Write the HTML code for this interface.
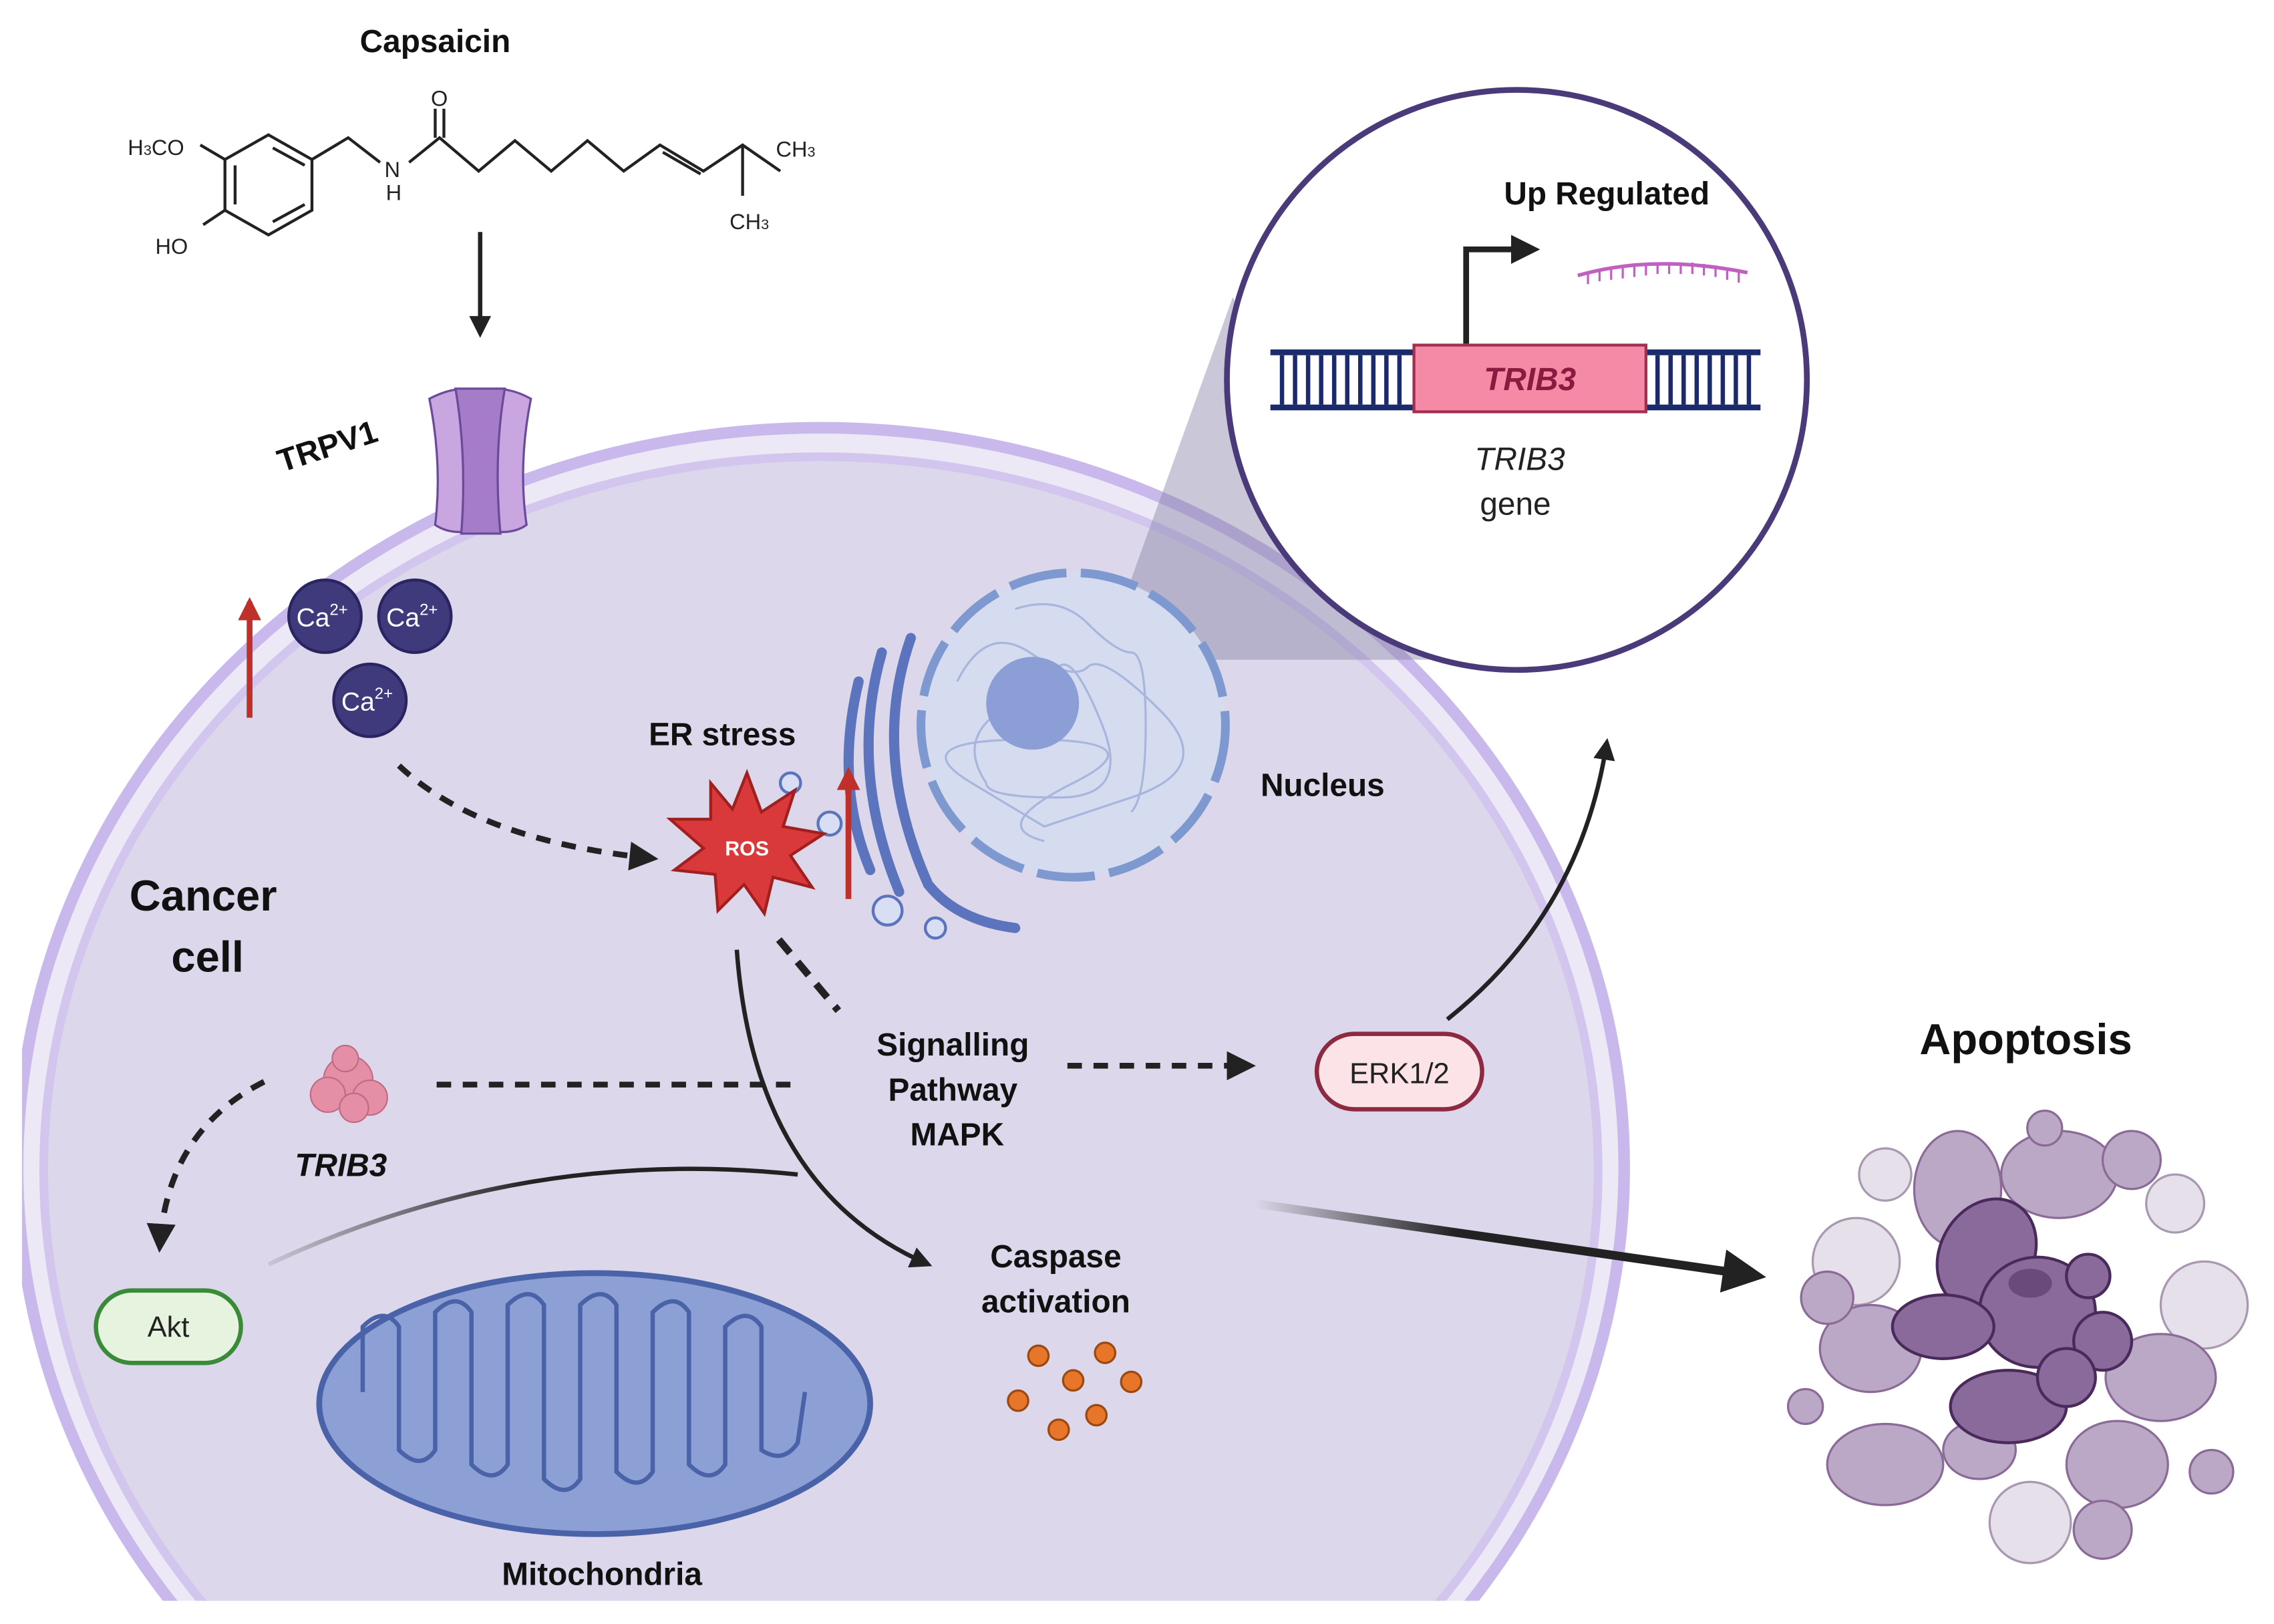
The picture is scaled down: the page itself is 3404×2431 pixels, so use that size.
<!DOCTYPE html>
<html><head><meta charset="utf-8"><style>
html,body{margin:0;padding:0;background:#fff;width:3404px;height:2431px;overflow:hidden}
svg{display:block}
text{font-family:"Liberation Sans",sans-serif}
</style></head><body>
<svg width="3404" height="2431" viewBox="0 0 1568 1120" xmlns="http://www.w3.org/2000/svg">
<defs>
<marker id="ah" viewBox="0 0 10 10" refX="8" refY="5" markerWidth="5" markerHeight="5" orient="auto"><path d="M0,0L10,5L0,10z" fill="#222"/></marker>
<marker id="ahr" viewBox="0 0 10 10" refX="8" refY="5" markerWidth="4" markerHeight="4" orient="auto"><path d="M0,0L10,5L0,10z" fill="#c0302a"/></marker>
<linearGradient id="fade" x1="0" x2="1"><stop offset="0" stop-color="#222" stop-opacity="0"/><stop offset="0.4" stop-color="#222"/></linearGradient>
<linearGradient id="fade2" x1="0" x2="1"><stop offset="0" stop-color="#222" stop-opacity="0.1"/><stop offset="0.5" stop-color="#222"/></linearGradient>
<clipPath id="cl"><rect x="15" y="0" width="1553" height="1104"/></clipPath>
</defs>
<rect width="1568" height="1120" fill="#fff"/>

<!-- cell -->
<g clip-path="url(#cl)">
<ellipse cx="566" cy="805" rx="554" ry="510" fill="#ece8f6" stroke="#c9b8ec" stroke-width="8"/>
<ellipse cx="566" cy="807" rx="536" ry="492" fill="#dcd7ea" stroke="#d2c6ee" stroke-width="6"/>
</g>

<!-- capsaicin structure -->
<g stroke="#222" stroke-width="2" fill="none">
<path d="M155,110 L185,93 L215,110 L215,145 L185,162 L155,145 Z"/>
<path d="M162,114 L162,141 M188,153 L210,141 M188,102 L210,114"/>
<path d="M155,110 L138,100 M155,145 L140,155 M215,110 L240,95 L262,112 M282,112 L303,95 L330,118 L355,97 L380,118 L405,97 L430,118 L455,100 L485,118 L512,100 L538,118 M512,100 L512,135"/>
<path d="M300,95 L300,75 M306,95 L306,75 M457,105 L483,120"/>
</g>
<g font-size="15" fill="#222">
<text x="88" y="107">H<tspan font-size="10">3</tspan>CO</text>
<text x="107" y="175">HO</text>
<text x="265" y="122">N</text><text x="266" y="138">H</text>
<text x="297" y="73">O</text>
<text x="535" y="108">CH<tspan font-size="10">3</tspan></text>
<text x="503" y="158">CH<tspan font-size="10">3</tspan></text>
</g>
<text x="300" y="36" font-size="22" font-weight="bold" text-anchor="middle" fill="#111">Capsaicin</text>
<line x1="331" y1="160" x2="331" y2="230" stroke="#222" stroke-width="3" marker-end="url(#ah)"/>

<!-- TRPV1 -->
<g stroke="#6a4a9a" stroke-width="1.5">
<path d="M296,275 Q315,265 330,270 L330,365 Q312,370 300,362 Q305,320 296,275Z" fill="#c9a6e0"/>
<path d="M366,275 Q348,265 332,270 L332,365 Q352,370 363,362 Q357,320 366,275Z" fill="#c9a6e0"/>
<path d="M314,268 L348,268 Q340,315 345,368 L318,368 Q322,315 314,268Z" fill="#a57cc8"/>
</g>
<text x="227" y="315" font-size="22" font-weight="bold" text-anchor="middle" fill="#111" transform="rotate(-18 227 312)">TRPV1</text>

<!-- Ca -->
<line x1="172" y1="495" x2="172" y2="415" stroke="#c0302a" stroke-width="4" marker-end="url(#ahr)"/>
<g fill="#3f3a7c" stroke="#2a2560" stroke-width="2">
<circle cx="224" cy="425" r="25"/><circle cx="286" cy="425" r="25"/><circle cx="255" cy="483" r="25"/>
</g>
<g fill="#fff" font-size="18" text-anchor="middle">
<text x="222" y="432">Ca<tspan font-size="11" dy="-8">2+</tspan></text>
<text x="284" y="432">Ca<tspan font-size="11" dy="-8">2+</tspan></text>
<text x="253" y="490">Ca<tspan font-size="11" dy="-8">2+</tspan></text>
</g>
<path d="M275,528 Q330,580 450,592" fill="none" stroke="#222" stroke-width="4" stroke-dasharray="10,8" marker-end="url(#ah)"/>

<!-- zoom cone -->
<path d="M760,455 L850,205 L1000,455 Z" fill="#8a86a8" opacity="0.45"/>

<!-- nucleus -->
<circle cx="740" cy="500" r="105" fill="#d5dcf0" stroke="#7e98d0" stroke-width="6" stroke-dasharray="40,10"/>
<g fill="none" stroke="#a8b6de" stroke-width="1.5">
<path d="M660,470 q20,-40 50,-20 t40,10 t50,30 t-20,60 t-60,20 t-50,-30 t40,-30 t30,30 t-20,40"/>
<path d="M680,540 q-20,-30 10,-50 t40,-30 t30,40 t-30,50 t-50,-10"/>
<path d="M700,420 q30,-10 50,10 t30,20 t10,50 t-10,60"/>
</g>
<circle cx="712" cy="485" r="32" fill="#8b9fd6"/>
<text x="912" y="549" font-size="22" font-weight="bold" text-anchor="middle" fill="#111">Nucleus</text>

<!-- ER -->
<g fill="none" stroke="#5b74bd" stroke-width="7" stroke-linecap="round">
<path d="M628,440 Q600,520 640,610 Q660,635 700,640"/>
<path d="M608,450 Q585,530 620,615"/>
<path d="M592,470 Q575,540 600,600"/>
</g>
<g fill="#d8def3" stroke="#5b74bd" stroke-width="2">
<circle cx="572" cy="568" r="8"/><circle cx="545" cy="540" r="7"/><circle cx="612" cy="628" r="10"/><circle cx="645" cy="640" r="7"/>
</g>
<line x1="585" y1="620" x2="585" y2="532" stroke="#c0302a" stroke-width="4" marker-end="url(#ahr)"/>
<text x="498" y="514" font-size="22" font-weight="bold" text-anchor="middle" fill="#111">ER stress</text>
<path d="M515,533 L525,560 L548,545 L540,570 L568,575 L545,590 L560,612 L533,605 L527,630 L513,610 L495,628 L493,603 L465,600 L485,585 L462,565 L490,565 L490,540 L505,558 Z" fill="#d9393a" stroke="#a02020" stroke-width="2"/>
<text x="515" y="590" font-size="14" font-weight="bold" fill="#fff" text-anchor="middle">ROS</text>

<!-- cancer cell -->
<text x="140" y="628" font-size="30" font-weight="bold" text-anchor="middle" fill="#111">Cancer</text>
<text x="143" y="670" font-size="30" font-weight="bold" text-anchor="middle" fill="#111">cell</text>

<!-- signalling -->
<line x1="537" y1="648" x2="578" y2="697" stroke="#222" stroke-width="5" stroke-dasharray="12,8"/>
<text x="657" y="728" font-size="22" font-weight="bold" text-anchor="middle" fill="#111">Signalling</text>
<text x="657" y="759" font-size="22" font-weight="bold" text-anchor="middle" fill="#111">Pathway</text>
<text x="660" y="790" font-size="22" font-weight="bold" text-anchor="middle" fill="#111">MAPK</text>
<line x1="736" y1="735" x2="862" y2="735" stroke="#222" stroke-width="4" stroke-dasharray="10,8" marker-end="url(#ah)"/>
<line x1="545" y1="748" x2="300" y2="748" stroke="#222" stroke-width="4" stroke-dasharray="10,8"/>
<rect x="908" y="713" width="114" height="52" rx="26" fill="#fbe3e8" stroke="#8b2a40" stroke-width="3"/>
<text x="965" y="747" font-size="20" text-anchor="middle" fill="#222">ERK1/2</text>
<path d="M998,703 Q1090,630 1108,512" fill="none" stroke="#222" stroke-width="3" marker-end="url(#ah)"/>

<!-- TRIB3 protein -->
<g fill="#e58fa6" stroke="#c06a85" stroke-width="1">
<circle cx="240" cy="745" r="17"/><circle cx="226" cy="755" r="12"/><circle cx="255" cy="757" r="12"/><circle cx="238" cy="730" r="9"/><circle cx="244" cy="764" r="10"/>
</g>
<text x="235" y="811" font-size="22" font-weight="bold" font-style="italic" text-anchor="middle" fill="#111">TRIB3</text>
<path d="M182,746 Q115,780 110,860" fill="none" stroke="#222" stroke-width="4" stroke-dasharray="10,8" marker-end="url(#ah)"/>
<rect x="66" y="890" width="100" height="50" rx="25" fill="#e6f4df" stroke="#3a8a3a" stroke-width="3"/>
<text x="116" y="922" font-size="20" text-anchor="middle" fill="#222">Akt</text>

<path d="M185,872 Q360,790 550,810" fill="none" stroke="url(#fade2)" stroke-width="3"/>
<path d="M508,655 Q520,820 640,872" fill="none" stroke="#222" stroke-width="3" marker-end="url(#ah)"/>

<!-- mitochondria -->
<ellipse cx="410" cy="968" rx="190" ry="90" fill="#8ca0d6" stroke="#4a62a8" stroke-width="4"/>
<path d="M250,960 L250,915 Q265,900 275,915 L275,1000 Q290,1015 300,1000 L300,905 Q315,890 325,905 L325,1010 Q340,1025 350,1010 L350,900 Q365,885 375,900 L375,1020 Q390,1035 400,1020 L400,900 Q415,885 425,900 L425,1015 Q440,1030 450,1015 L450,905 Q465,890 475,905 L475,1010 Q490,1025 500,1010 L500,915 Q515,900 525,915 L525,1000 Q540,1010 550,995 L555,960" fill="none" stroke="#4a62a8" stroke-width="3"/>
<text x="415" y="1093" font-size="22" font-weight="bold" text-anchor="middle" fill="#111">Mitochondria</text>

<!-- caspase -->
<text x="728" y="874" font-size="22" font-weight="bold" text-anchor="middle" fill="#111">Caspase</text>
<text x="728" y="905" font-size="22" font-weight="bold" text-anchor="middle" fill="#111">activation</text>
<g fill="#e8762a" stroke="#9a4a10" stroke-width="1.5">
<circle cx="716" cy="935" r="7"/><circle cx="762" cy="933" r="7"/><circle cx="740" cy="952" r="7"/><circle cx="780" cy="953" r="7"/><circle cx="702" cy="966" r="7"/><circle cx="756" cy="976" r="7"/><circle cx="730" cy="986" r="7"/>
</g>

<line x1="865" y1="830" x2="1212" y2="880" stroke="url(#fade)" stroke-width="6" marker-end="url(#ah)"/>

<!-- apoptosis -->
<text x="1397" y="727" font-size="30" font-weight="bold" text-anchor="middle" fill="#111">Apoptosis</text>
<g stroke="#a898b0" stroke-width="1.5" fill="#e6e0ea">
<circle cx="1280" cy="870" r="30"/><circle cx="1520" cy="900" r="30"/><circle cx="1400" cy="1050" r="28"/><circle cx="1300" cy="810" r="18"/><circle cx="1500" cy="830" r="20"/>
</g>
<g stroke="#8a6a96" stroke-width="1.5" fill="#bba8c6">
<ellipse cx="1350" cy="820" rx="30" ry="40"/><ellipse cx="1420" cy="810" rx="40" ry="30"/><circle cx="1470" cy="800" r="20"/><circle cx="1410" cy="778" r="12"/>
<ellipse cx="1290" cy="930" rx="35" ry="30"/><ellipse cx="1300" cy="1010" rx="40" ry="28"/><circle cx="1245" cy="970" r="12"/><circle cx="1260" cy="895" r="18"/>
<ellipse cx="1490" cy="950" rx="38" ry="30"/><ellipse cx="1460" cy="1010" rx="35" ry="30"/><circle cx="1525" cy="1015" r="15"/><circle cx="1450" cy="1055" r="20"/>
<ellipse cx="1365" cy="1000" rx="25" ry="20"/>
</g>
<g stroke="#4a2a5a" stroke-width="2" fill="#8a6a9a">
<ellipse cx="1370" cy="865" rx="32" ry="40" transform="rotate(30 1370 865)"/>
<ellipse cx="1405" cy="905" rx="40" ry="38"/>
<ellipse cx="1340" cy="915" rx="35" ry="22"/>
<circle cx="1440" cy="880" r="15"/><circle cx="1450" cy="925" r="20"/>
<ellipse cx="1385" cy="970" rx="40" ry="25"/>
<circle cx="1425" cy="950" r="20"/>
</g>
<ellipse cx="1400" cy="885" rx="15" ry="10" fill="#6a4a7a"/>

<!-- magnifier -->
<circle cx="1046" cy="262" r="200" fill="#fff" stroke="#4b3a7a" stroke-width="4"/>
<g stroke="#1a2a6a" stroke-width="4"><line x1="876" y1="243" x2="975" y2="243"/><line x1="876" y1="281" x2="975" y2="281"/><line x1="1135" y1="243" x2="1214" y2="243"/><line x1="1135" y1="281" x2="1214" y2="281"/></g>
<g stroke="#1a2a6a" stroke-width="3">
<path d="M884,245V279M893,245V279M902,245V279M911,245V279M920,245V279M929,245V279M938,245V279M947,245V279M956,245V279M965,245V279"/>
<path d="M1143,245V279M1152,245V279M1161,245V279M1170,245V279M1179,245V279M1188,245V279M1197,245V279M1206,245V279"/>
</g>
<rect x="975" y="238" width="160" height="46" fill="#f48aa6" stroke="#a03050" stroke-width="2"/>
<text x="1055" y="269" font-size="22" font-weight="bold" font-style="italic" text-anchor="middle" fill="#8b1a40">TRIB3</text>
<path d="M1011,237 V172 H1058" fill="none" stroke="#222" stroke-width="4" marker-end="url(#ah)"/>
<text x="1108" y="141" font-size="22" font-weight="bold" text-anchor="middle" fill="#111">Up Regulated</text>
<path d="M1088,190 Q1140,175 1205,188" fill="none" stroke="#c060c0" stroke-width="2.5"/>
<path d="M1095,188v8M1103,186v8M1111,185v8M1119,184v8M1127,183v8M1135,182v8M1143,181v8M1151,181v8M1159,181v8M1167,181v8M1175,182v8M1183,183v8M1191,185v8M1199,187v8" stroke="#c060c0" stroke-width="1.5"/>
<text x="1048" y="324" font-size="22" font-style="italic" text-anchor="middle" fill="#222">TRIB3</text>
<text x="1045" y="355" font-size="22" text-anchor="middle" fill="#222">gene</text>
</svg>
</body></html>
